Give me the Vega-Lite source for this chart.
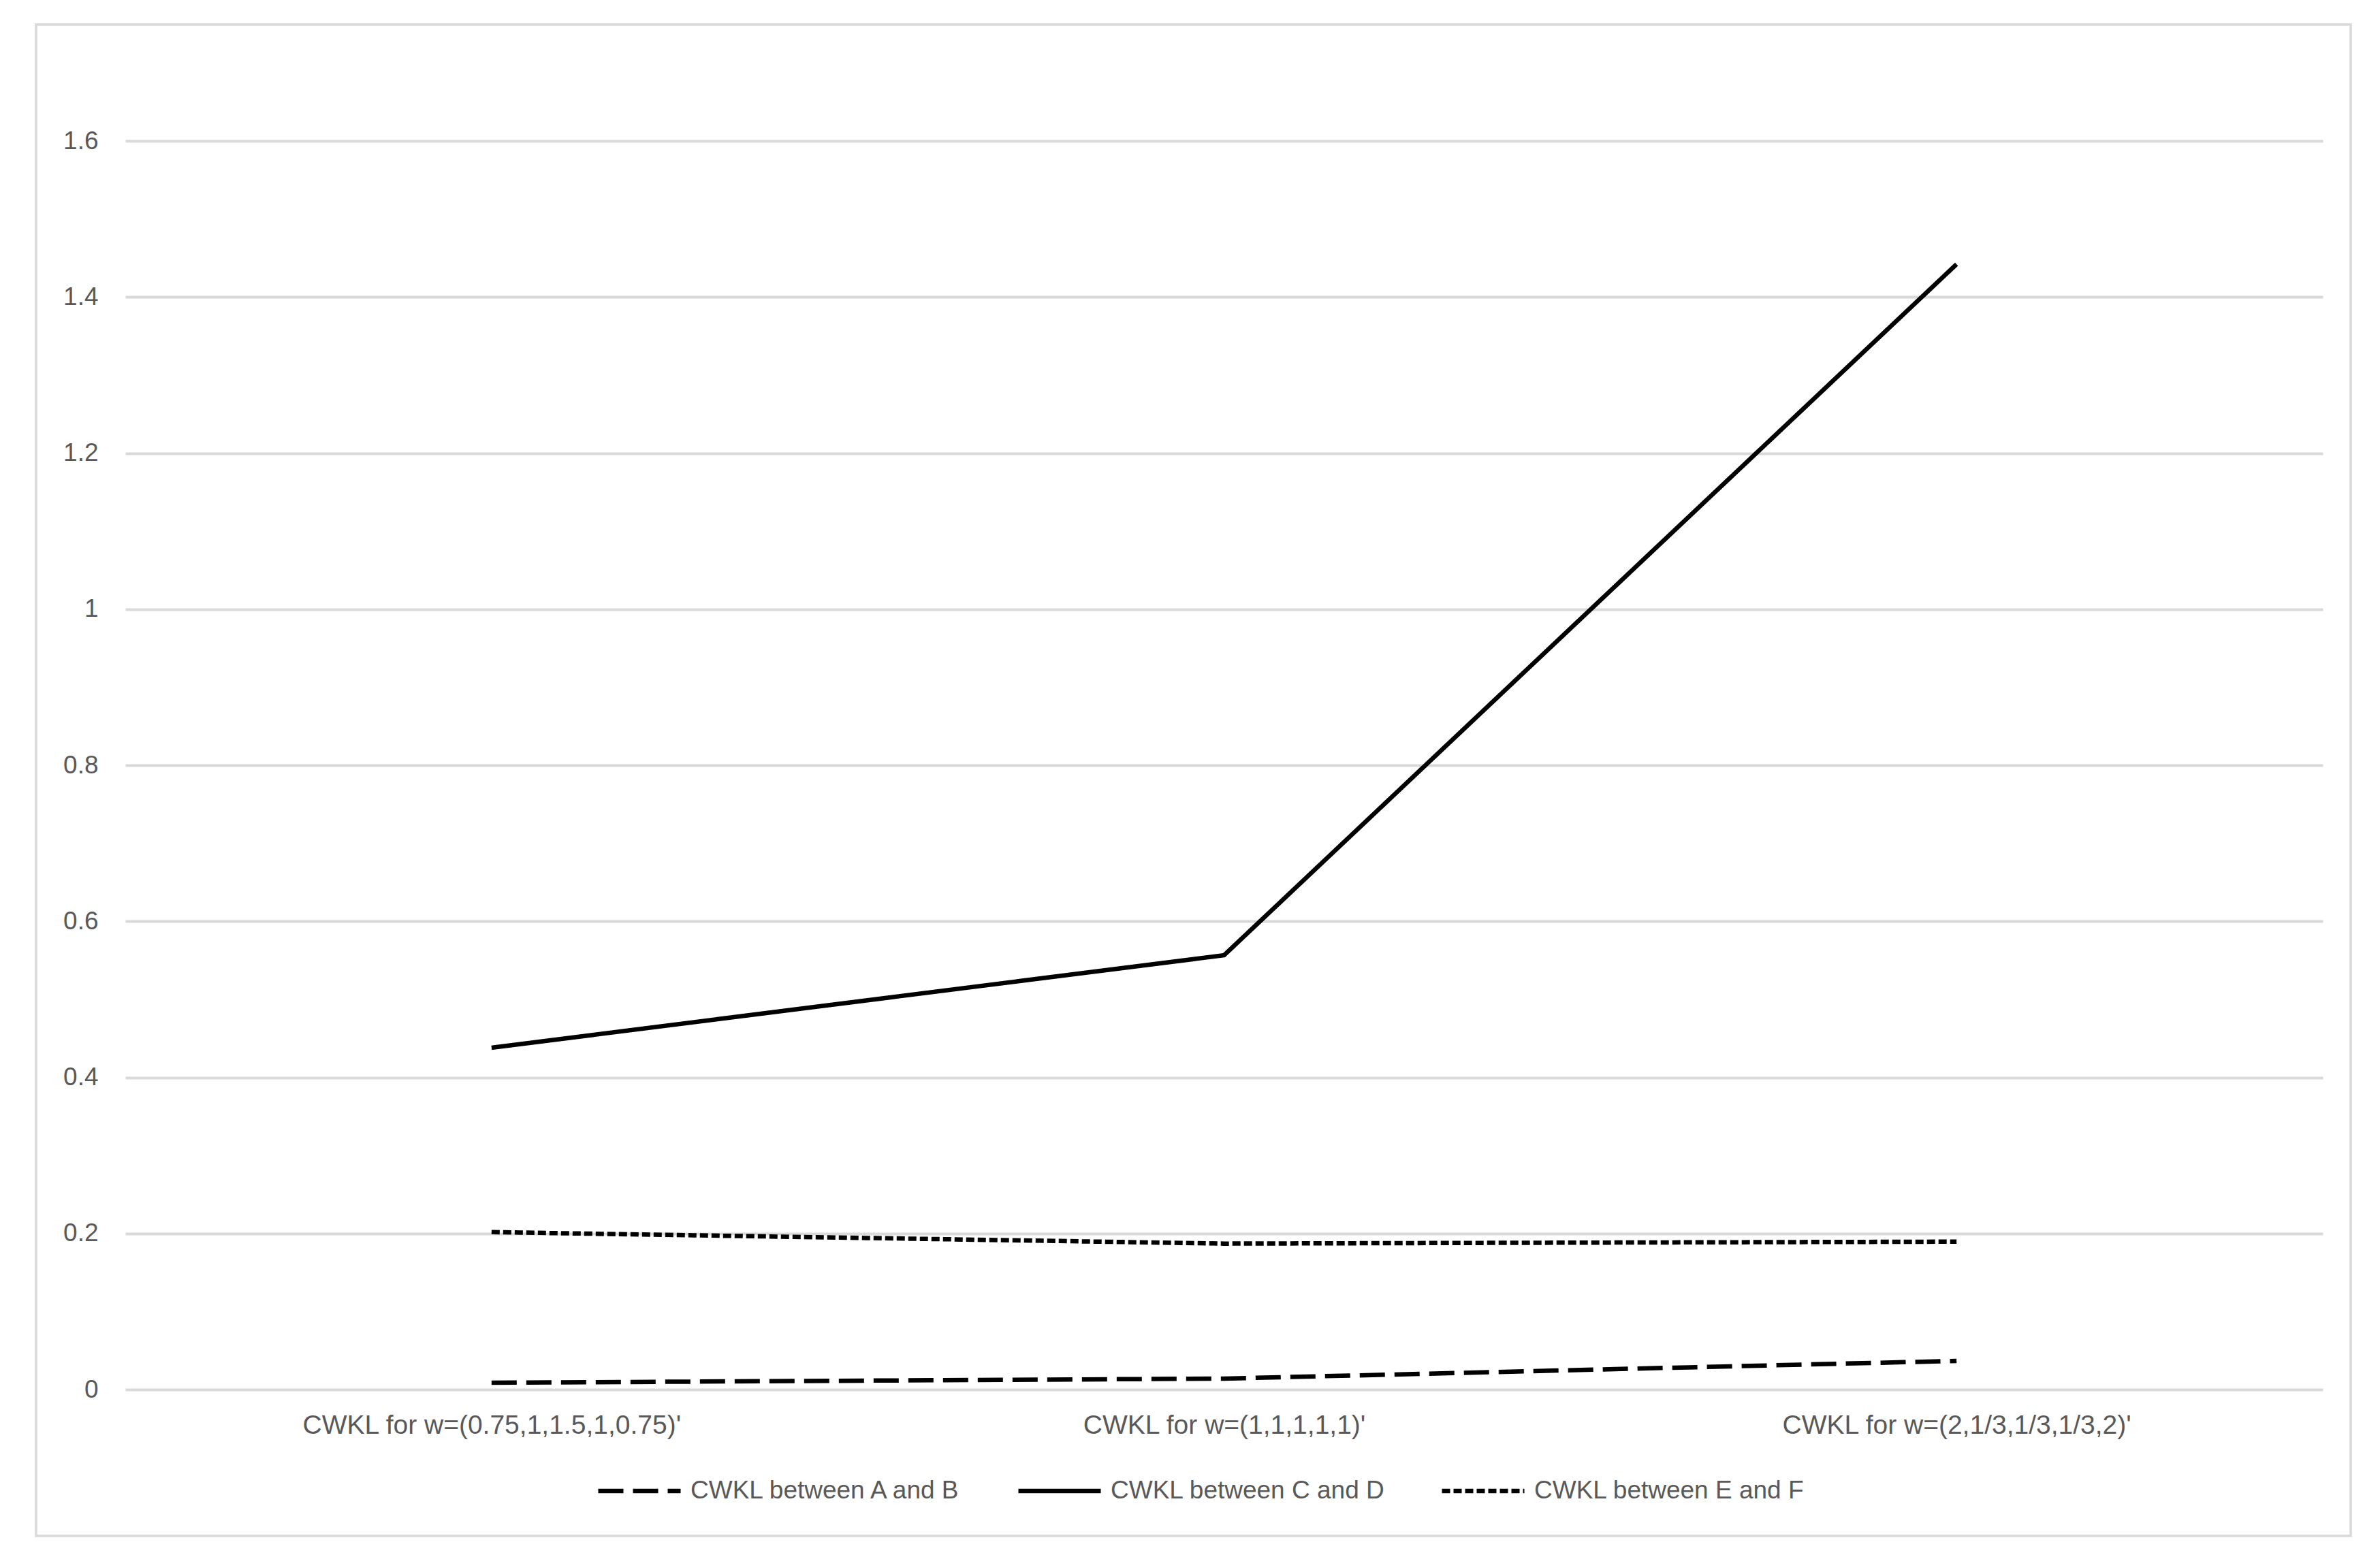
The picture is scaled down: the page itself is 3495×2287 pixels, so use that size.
{
  "$schema": "https://vega.github.io/schema/vega-lite/v6.json",
  "description": "CWKL for three weight vectors, three pairs",
  "width": 3399,
  "height": 2220,
  "autosize": {"type": "none"},
  "padding": {"left": 53, "top": 36, "right": 43, "bottom": 31},
  "background": "white",
  "config": {
    "font": "Liberation Sans",
    "view": {"stroke": "#D9D9D9", "strokeWidth": 3.5}
  },
  "data": {
    "values": [
      {"pair": "CWKL between A and B", "weights": "CWKL for w=(0.75,1,1.5,1,0.75)'", "cwkl": 0.0087},
      {"pair": "CWKL between A and B", "weights": "CWKL for w=(1,1,1,1,1)'", "cwkl": 0.014},
      {"pair": "CWKL between A and B", "weights": "CWKL for w=(2,1/3,1/3,1/3,2)'", "cwkl": 0.0367},
      {"pair": "CWKL between C and D", "weights": "CWKL for w=(0.75,1,1.5,1,0.75)'", "cwkl": 0.438},
      {"pair": "CWKL between C and D", "weights": "CWKL for w=(1,1,1,1,1)'", "cwkl": 0.5565},
      {"pair": "CWKL between C and D", "weights": "CWKL for w=(2,1/3,1/3,1/3,2)'", "cwkl": 1.442},
      {"pair": "CWKL between E and F", "weights": "CWKL for w=(0.75,1,1.5,1,0.75)'", "cwkl": 0.2017},
      {"pair": "CWKL between E and F", "weights": "CWKL for w=(1,1,1,1,1)'", "cwkl": 0.187},
      {"pair": "CWKL between E and F", "weights": "CWKL for w=(2,1/3,1/3,1/3,2)'", "cwkl": 0.1895}
    ]
  },
  "mark": {"type": "line", "color": "#000000", "strokeWidth": 6.5, "strokeCap": "butt", "strokeJoin": "miter"},
  "encoding": {
    "x": {
      "field": "weights",
      "type": "nominal",
      "scale": {
        "type": "point",
        "domain": ["CWKL for w=(0.75,1,1.5,1,0.75)'", "CWKL for w=(1,1,1,1,1)'", "CWKL for w=(2,1/3,1/3,1/3,2)'"],
        "range": [131, 3358],
        "padding": 0.5
      },
      "axis": {
        "title": null,
        "orient": "bottom",
        "offset": -215,
        "labelAngle": 0,
        "labelPadding": 33,
        "labelFontSize": 39,
        "labelColor": "#595959",
        "labelLimit": 0,
        "ticks": false,
        "tickSize": 0,
        "domain": false,
        "grid": false
      }
    },
    "y": {
      "field": "cwkl",
      "type": "quantitative",
      "scale": {"domain": [0, 1.6], "range": [2005, 171], "nice": false, "zero": true},
      "axis": {
        "title": null,
        "offset": -91,
        "values": [0, 0.2, 0.4, 0.6, 0.8, 1, 1.2, 1.4, 1.6],
        "format": "~g",
        "labelPadding": 0,
        "labelFontSize": 37,
        "labelColor": "#595959",
        "ticks": false,
        "tickSize": 0,
        "domain": false,
        "grid": true,
        "gridColor": "#D9D9D9",
        "gridWidth": 4
      }
    },
    "strokeDash": {
      "field": "pair",
      "type": "nominal",
      "scale": {
        "domain": ["CWKL between A and B", "CWKL between C and D", "CWKL between E and F"],
        "range": [[37, 14], [1, 0], [12, 5]]
      },
      "legend": {
        "title": null,
        "orient": "none",
        "direction": "horizontal",
        "legendX": 822,
        "legendY": 2090,
        "symbolType": "stroke",
        "symbolSize": 14641,
        "symbolStrokeWidth": 6.5,
        "symbolStrokeColor": "#000000",
        "labelOffset": 11,
        "columnPadding": 69,
        "labelFontSize": 37,
        "labelColor": "#595959",
        "labelLimit": 0
      }
    }
  }
}
